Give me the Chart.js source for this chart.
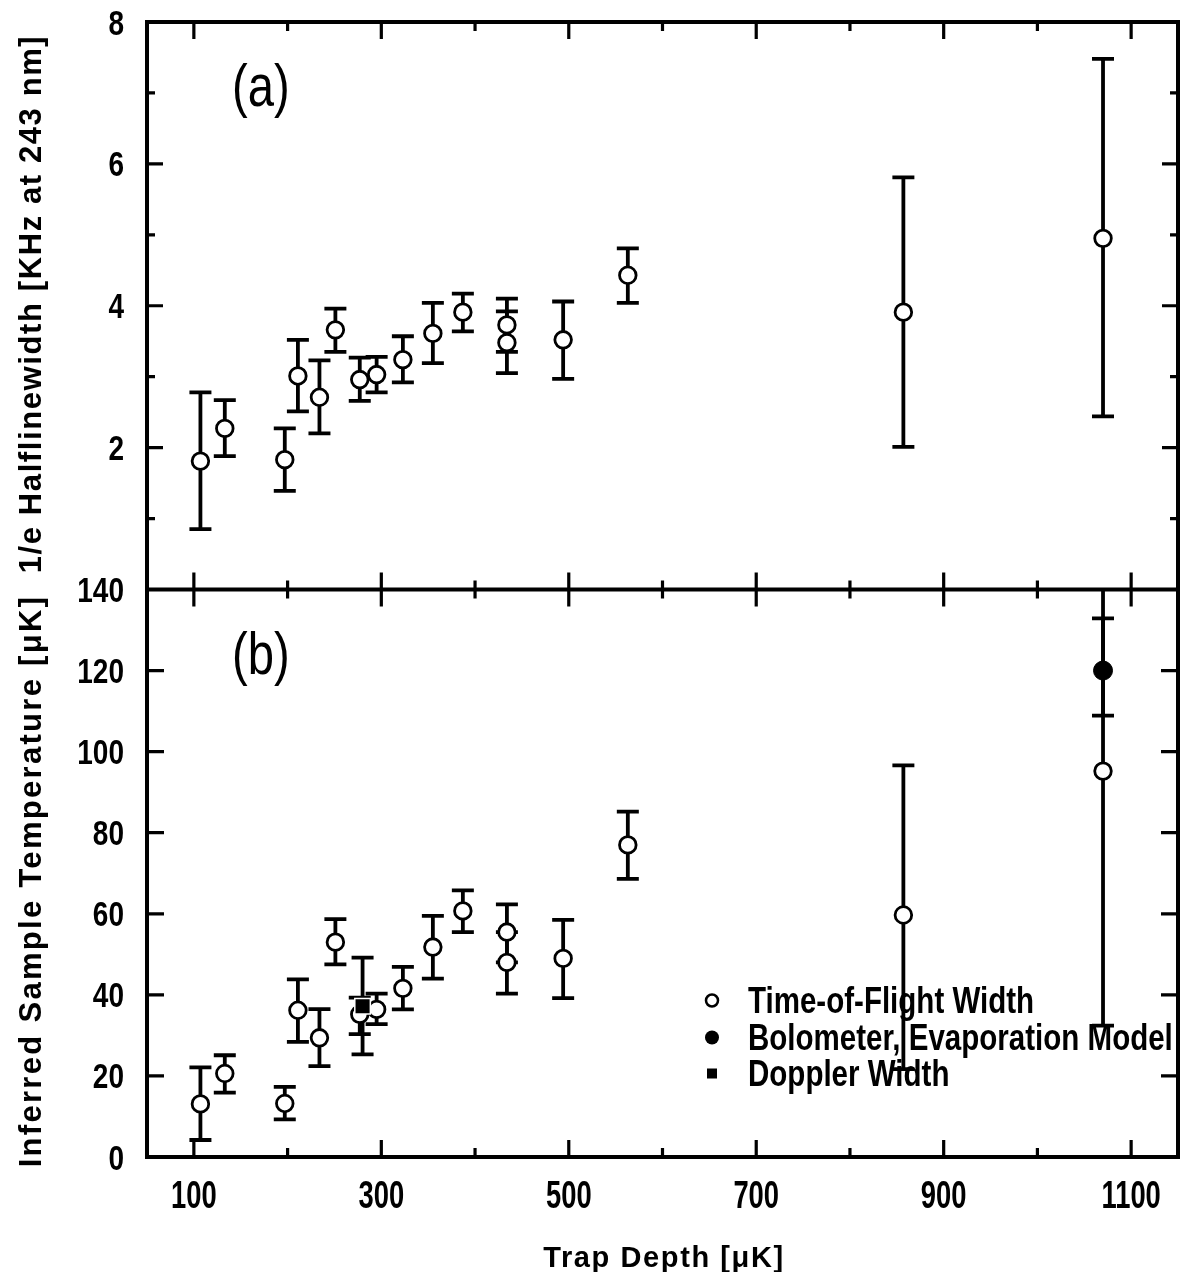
<!DOCTYPE html>
<html>
<head>
<meta charset="utf-8">
<script src="https://cdn.jsdelivr.net/npm/chart.js@4.4.1/dist/chart.umd.min.js"></script>
<style>
  html, body { margin: 0; padding: 0; background: #fff; }
  #wrap { width: 1183px; height: 1272px; }
</style>
</head>
<body>
<div id="wrap"><canvas id="myChart" width="1183" height="1272"></canvas></div>
<script>
// trap depth [uK], same measurements in both panels
const trapDepth = [107, 133, 197, 211, 234, 251, 277, 295, 323, 355, 387, 434, 434, 494, 563, 857, 1070];

// (a) 1/e halflinewidth [kHz at 243 nm] with lower / upper error bar ends
const halfWidth   = [1.81, 2.27, 1.83, 3.01, 2.71, 3.66, 2.96, 3.03, 3.24, 3.61, 3.91, 3.73, 3.48, 3.52, 4.43, 3.91, 4.95];
const halfWidthLo = [0.85, 1.88, 1.39, 2.51, 2.20, 3.35, 2.66, 2.78, 2.92, 3.19, 3.64, 3.35, 3.05, 2.97, 4.04, 2.01, 2.44];
const halfWidthHi = [2.78, 2.67, 2.27, 3.52, 3.23, 3.96, 3.27, 3.28, 3.57, 4.04, 4.17, 4.10, 3.92, 4.06, 4.81, 5.81, 7.48];

// (b) inferred sample temperature [uK] from time-of-flight width
const tofTemp   = [13.1, 20.6, 13.2, 36.2, 29.4, 53.0, 35.2, 36.4, 41.6, 51.8, 60.7, 55.5, 48.0, 49.0, 77.0, 59.7, 95.2];
const tofTempLo = [4.2, 15.9, 9.3, 28.4, 22.4, 47.5, 30.3, 32.8, 36.4, 44.0, 55.5, 48.0, 40.3, 39.2, 68.6, 21.7, 32.4];
const tofTempHi = [22.1, 25.1, 17.3, 43.8, 36.5, 58.7, 39.3, 40.3, 46.9, 59.5, 65.8, 62.3, 55.5, 58.5, 85.2, 96.6, 158];

// bolometer, evaporation model
const boloDepth = [1070];
const boloTemp = [120];
const boloTempLo = [108.9];
const boloTempHi = [132.9];

// doppler width
const dopplerDepth = [280];
const dopplerTemp = [37.2];
const dopplerTempLo = [25.3];
const dopplerTempHi = [49.2];

// axis ticks
const xLabelTicks = [100, 300, 500, 700, 900, 1100];
const xTickMarks = [100, 200, 300, 400, 500, 600, 700, 800, 900, 1000, 1100];
const topLabelTicks = [2, 4, 6, 8];
const topTickMarks = [1, 2, 3, 4, 5, 6, 7];
const botLabelTicks = [0, 20, 40, 60, 80, 100, 120, 140];
const botTickMarks = [20, 40, 60, 80, 100, 120];

const legendItems = ["Time-of-Flight Width", "Bolometer, Evaporation Model", "Doppler Width"];

const SANS = "'Liberation Sans', Arial, sans-serif";

const toPoints = (xs, ys) => xs.map((x, i) => ({ x: x, y: ys[i] }));

// text with a horizontal squeeze, the original lettering is tall and narrow
const drawText = (ctx, txt, x, y, opt) => {
  ctx.save();
  ctx.translate(x, y);
  if (opt.rotate) ctx.rotate(opt.rotate);
  ctx.scale(opt.sx || 1, 1);
  ctx.font = (opt.weight || "normal") + " " + opt.size + "px " + SANS;
  ctx.letterSpacing = (opt.spacing || 0) + "px";
  ctx.textAlign = opt.align || "left";
  ctx.textBaseline = opt.baseline || "alphabetic";
  ctx.fillStyle = "#000";
  ctx.fillText(txt, 0, 0);
  ctx.restore();
};

// error bars under the markers
const errorBars = {
  id: "errorBars",
  beforeDatasetsDraw(chart) {
    const ctx = chart.ctx;
    const ca = chart.chartArea;
    const xs = chart.scales.x;
    chart.data.datasets.forEach((ds) => {
      if (!ds.errLo) return;
      const ys = chart.scales[ds.yAxisID];
      ctx.save();
      ctx.beginPath();
      ctx.rect(ca.left, ys.top, ca.right - ca.left, ys.bottom - ys.top);
      ctx.clip();
      ctx.strokeStyle = "#000";
      ctx.lineWidth = 3.8;
      ctx.lineCap = "butt";
      ds.data.forEach((p, i) => {
        const px = xs.getPixelForValue(p.x);
        const lo = ys.getPixelForValue(ds.errLo[i]);
        const hi = ys.getPixelForValue(ds.errHi[i]);
        ctx.beginPath();
        ctx.moveTo(px, lo);
        ctx.lineTo(px, hi);
        ctx.moveTo(px - 11, lo);
        ctx.lineTo(px + 11, lo);
        ctx.moveTo(px - 11, hi);
        ctx.lineTo(px + 11, hi);
        ctx.stroke();
      });
      ctx.restore();
    });
  },
};

// box, inward ticks, labels, titles, panel letters and legend
const frameAndText = {
  id: "frameAndText",
  afterDatasetsDraw(chart) {
    const ctx = chart.ctx;
    const ca = chart.chartArea;
    const xs = chart.scales.x;
    const yTop = chart.scales.yTop;
    const yBot = chart.scales.yBot;
    const midY = yTop.bottom;

    ctx.save();
    ctx.strokeStyle = "#000";
    ctx.lineWidth = 4;
    ctx.strokeRect(ca.left, ca.top, ca.right - ca.left, ca.bottom - ca.top);
    ctx.beginPath();
    ctx.moveTo(ca.left, midY);
    ctx.lineTo(ca.right, midY);
    ctx.stroke();

    ctx.lineWidth = 3.2;
    ctx.beginPath();
    xTickMarks.forEach((v) => {
      const px = xs.getPixelForValue(v);
      const len = xLabelTicks.includes(v) ? 17 : 9;
      ctx.moveTo(px, ca.top);
      ctx.lineTo(px, ca.top + len);
      ctx.moveTo(px, midY - len);
      ctx.lineTo(px, midY + len);
      ctx.moveTo(px, ca.bottom);
      ctx.lineTo(px, ca.bottom - len);
    });
    topTickMarks.forEach((v) => {
      const py = yTop.getPixelForValue(v);
      const len = v % 2 === 0 ? 16 : 8;
      ctx.moveTo(ca.left, py);
      ctx.lineTo(ca.left + len, py);
      ctx.moveTo(ca.right, py);
      ctx.lineTo(ca.right - len, py);
    });
    botTickMarks.forEach((v) => {
      const py = yBot.getPixelForValue(v);
      ctx.moveTo(ca.left, py);
      ctx.lineTo(ca.left + 17, py);
      ctx.moveTo(ca.right, py);
      ctx.lineTo(ca.right - 17, py);
    });
    ctx.stroke();
    ctx.restore();

    // tick labels
    const yLab = { size: 35, sx: 0.8, weight: "bold", align: "right" };
    topLabelTicks.forEach((v) => {
      drawText(ctx, String(v), ca.left - 23, yTop.getPixelForValue(v) + 12.5, yLab);
    });
    botLabelTicks.forEach((v) => {
      drawText(ctx, String(v), ca.left - 23, yBot.getPixelForValue(v) + 12.5, yLab);
    });
    xLabelTicks.forEach((v) => {
      drawText(ctx, String(v), xs.getPixelForValue(v), ca.bottom + 51, {
        size: 38, sx: 0.72, weight: "bold", align: "center",
      });
    });

    // axis titles
    const rot = -Math.PI / 2;
    drawText(ctx, "1/e Halflinewidth [KHz at 243 nm]", 32, 304, {
      size: 31, weight: "bold", spacing: 1.6, align: "center", baseline: "middle", rotate: rot,
    });
    drawText(ctx, "Inferred Sample Temperature [μK]", 32, 881, {
      size: 31, weight: "bold", spacing: 2.3, align: "center", baseline: "middle", rotate: rot,
    });
    drawText(ctx, "Trap Depth [μK]", 664, 1267, { size: 29, weight: "bold", spacing: 1.6, align: "center" });

    // panel letters
    drawText(ctx, "(a)", ca.left + 85, yTop.top + 84, { size: 59, sx: 0.8 });
    drawText(ctx, "(b)", ca.left + 85, yBot.top + 84, { size: 59, sx: 0.8 });

    // legend
    const lx = ca.left + 565;
    const rows = [ca.bottom - 144, ca.bottom - 107, ca.bottom - 71];
    ctx.save();
    ctx.strokeStyle = "#000";
    ctx.lineWidth = 2.5;
    ctx.beginPath();
    ctx.arc(lx, rows[0] - 12.5, 6, 0, Math.PI * 2);
    ctx.fillStyle = "#fff";
    ctx.fill();
    ctx.stroke();
    ctx.fillStyle = "#000";
    ctx.beginPath();
    ctx.arc(lx, rows[1] - 12.5, 7, 0, Math.PI * 2);
    ctx.fill();
    ctx.fillRect(lx - 5, rows[2] - 17.5, 10, 10);
    ctx.restore();
    legendItems.forEach((t, i) => {
      drawText(ctx, t, lx + 36, rows[i], { size: 36, sx: 0.82, weight: "bold" });
    });
  },
};

const circleStyle = {
  pointStyle: "circle",
  pointRadius: 8.3,
  pointHoverRadius: 8.3,
  pointBorderWidth: 2.8,
  borderColor: "#000",
  backgroundColor: "#fff",
};

const hiddenAxis = {
  grid: { display: false, drawTicks: false },
  border: { display: false },
  ticks: { display: false },
};

const myChart = new Chart(document.getElementById("myChart"), {
  type: "scatter",
  data: {
    datasets: [
      {
        ...circleStyle,
        label: "Halflinewidth",
        data: toPoints(trapDepth, halfWidth),
        errLo: halfWidthLo,
        errHi: halfWidthHi,
        yAxisID: "yTop",
      },
      {
        ...circleStyle,
        label: legendItems[0],
        data: toPoints(trapDepth, tofTemp),
        errLo: tofTempLo,
        errHi: tofTempHi,
        yAxisID: "yBot",
      },
      {
        label: legendItems[1],
        data: toPoints(boloDepth, boloTemp),
        errLo: boloTempLo,
        errHi: boloTempHi,
        yAxisID: "yBot",
        order: -1,
        pointStyle: "circle",
        pointRadius: 9.5,
        pointBorderWidth: 1,
        borderColor: "#000",
        backgroundColor: "#000",
      },
      {
        label: legendItems[2],
        data: toPoints(dopplerDepth, dopplerTemp),
        errLo: dopplerTempLo,
        errHi: dopplerTempHi,
        yAxisID: "yBot",
        order: -1,
        pointStyle: "rect",
        pointRadius: 11,
        pointBorderWidth: 1.5,
        borderColor: "#fff",
        backgroundColor: "#000",
      },
    ],
  },
  options: {
    responsive: false,
    animation: false,
    layout: { autoPadding: false, padding: { top: 22, right: 5, left: 0, bottom: 0 } },
    plugins: {
      legend: { display: false },
      tooltip: { enabled: false },
    },
    scales: {
      x: {
        ...hiddenAxis,
        type: "linear",
        position: "bottom",
        min: 50,
        max: 1150,
        afterFit: (s) => {
          s.height = 115;
        },
      },
      yBot: {
        ...hiddenAxis,
        type: "linear",
        position: "left",
        stack: "panels",
        stackWeight: 1,
        min: 0,
        max: 140,
        afterFit: (s) => {
          s.width = 147;
        },
      },
      yTop: {
        ...hiddenAxis,
        type: "linear",
        position: "left",
        stack: "panels",
        stackWeight: 1,
        min: 0,
        max: 8,
        afterFit: (s) => {
          s.width = 147;
        },
      },
    },
  },
  plugins: [errorBars, frameAndText],
});
</script>
</body>
</html>
